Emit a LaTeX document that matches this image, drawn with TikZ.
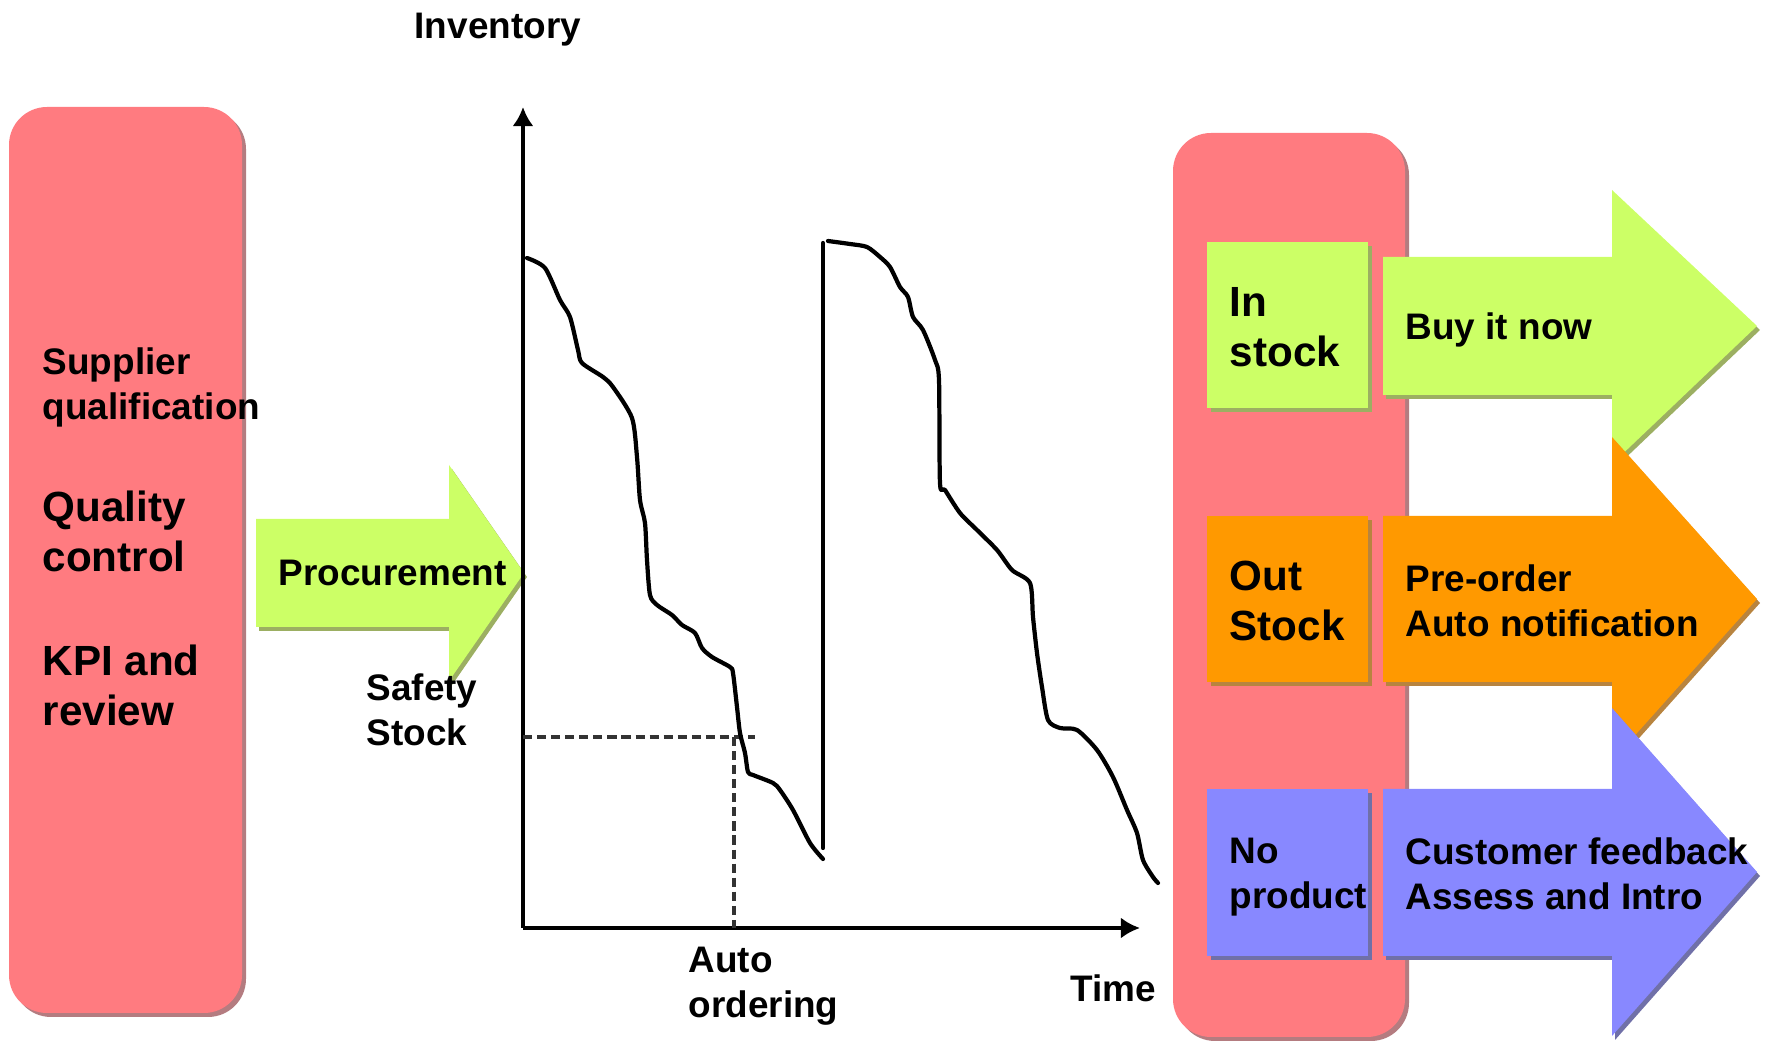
\documentclass[tikz,border=0pt]{standalone}
\usepackage{fontspec}
\setmainfont{Liberation Sans}
\usetikzlibrary{arrows.meta}

\definecolor{pinkfill}{HTML}{FF7B80}
\definecolor{pinkshade}{HTML}{B47C80}
\definecolor{limefill}{HTML}{CCFF66}
\definecolor{limeshade}{HTML}{9CAF62}
\definecolor{orangefill}{HTML}{FF9900}
\definecolor{orangeshade}{HTML}{B8843F}
\definecolor{bluefill}{HTML}{8888FF}
\definecolor{blueshade}{HTML}{7070A8}

\tikzset{
  txt/.style={font=\bfseries\fontsize{10.5}{12.8}\selectfont, inner sep=0pt, anchor=west, align=left},
  bigtxt/.style={font=\bfseries\fontsize{12}{14.2}\selectfont, inner sep=0pt, anchor=west, align=left},
  axisline/.style={line width=1.3pt, black, -{Latex[length=1.9mm, width=2.1mm]}},
  stockcurve/.style={line width=1.2pt, black, line join=round, line cap=round},
  guide/.style={line width=1.3pt, black!80, dash pattern=on 2.6pt off 1.4pt},
  panel/.style={rounded corners=3.8mm},
}

\begin{document}
\begin{tikzpicture}[x=0.01cm, y=-0.01cm]
\useasboundingbox (0,0) rectangle (1768,1046);

% ---------- left panel ----------
\fill[pinkshade, panel] (13,111) rectangle (246,1017);
\fill[pinkfill, panel] (9,107) rectangle (242,1013);

\node[txt] (supplier) at (42,387) {Supplier\\qualification};
\node[bigtxt] (quality) at (42,531) {Quality\\control};
\node[bigtxt] (kpi) at (42,685) {KPI and\\review};

% ---------- procurement arrow ----------
\fill[limeshade] (259,523) -- (452,523) -- (452,469) -- (527,577) -- (452,685) -- (452,631) -- (259,631) -- cycle;
\fill[limefill] (256,519) -- (449,519) -- (449,465) -- (524,573) -- (449,681) -- (449,627) -- (256,627) -- cycle;
\node[txt] (procurement) at (278,573) {Procurement};

% ---------- inventory chart ----------
\coordinate (origin) at (523,928);
\coordinate (ytop) at (523,107);
\coordinate (xend) at (1140,928);
\draw[axisline] (origin) -- (ytop);
\draw[axisline] (origin) -- (xend);

\node[txt] (inventory) at (414,30) {Inventory};
\node[txt] (time) at (1070,988) {Time};
\node[txt] (safety) at (366,710) {Safety\\Stock};
\node[txt] (autoorder) at (688,986) {Auto\\ordering};

% safety stock level and reorder point
\coordinate (ss) at (523,737);
\coordinate (ssend) at (755,737);
\coordinate (reorder) at (734,737);
\coordinate (reorderfoot) at (734,928);
\draw[guide] (ss) -- (ssend);
\draw[guide] (reorder) -- (reorderfoot);

% first depletion cycle
\draw[stockcurve] plot[smooth, tension=0.45] coordinates {
  (527,258) (545,268) (560,300) (570,317) (578,350) (582,363) (603,377)
  (613,387) (632,418) (637,457) (640,500) (645,523) (647,560) (650,595)
  (657,605) (672,615) (682,625) (695,633) (702,648) (712,657) (730,667)
  (733,673) (737,707) (740,733) (745,753) (748,772) (753,775) (773,783)
  (780,790) (793,810) (810,843) (823,859)};

% replenishment
\coordinate (refillbot) at (823,848);
\coordinate (refilltop) at (823,243);
\draw[stockcurve] (refillbot) -- (refilltop);

% second depletion cycle
\draw[stockcurve] plot[smooth, tension=0.45] coordinates {
  (828,241) (850,244) (867,247) (880,257) (890,267) (900,287) (908,297)
  (913,317) (923,330) (935,360) (939,380) (940,483) (945,490) (960,513)
  (977,530) (997,550) (1012,570) (1030,583) (1033,617) (1037,653)
  (1042,687) (1048,720) (1060,728) (1077,730) (1097,750) (1113,777)
  (1127,810) (1137,833) (1143,860) (1153,877) (1158,883)};

% ---------- right panel ----------
\fill[pinkshade, panel] (1177,137) rectangle (1409,1041);
\fill[pinkfill, panel] (1173,133) rectangle (1405,1037);

% status boxes
\fill[limeshade] (1211,246) rectangle (1372,412);
\fill[limefill] (1207,242) rectangle (1368,408);
\node[bigtxt] (instock) at (1229,327) {In\\stock};

\fill[orangeshade] (1211,520) rectangle (1372,686);
\fill[orangefill] (1207,516) rectangle (1368,682);
\node[bigtxt] (outstock) at (1229,601) {Out\\Stock};

\fill[blueshade] (1211,793) rectangle (1372,960);
\fill[bluefill] (1207,789) rectangle (1368,956);
\node[txt] (noproduct) at (1229,877) {No\\product};

% action arrows
\fill[limeshade] (1386,261) -- (1615,261) -- (1615,194) -- (1760,330) -- (1615,468) -- (1615,399) -- (1386,399) -- cycle;
\fill[limefill] (1383,257) -- (1612,257) -- (1612,190) -- (1757,326) -- (1612,464) -- (1612,395) -- (1383,395) -- cycle;
\node[txt] (buy) at (1405,330) {Buy it now};

\fill[orangeshade] (1386,520) -- (1615,520) -- (1615,441) -- (1760,603) -- (1615,765) -- (1615,686) -- (1386,686) -- cycle;
\fill[orangefill] (1383,516) -- (1612,516) -- (1612,437) -- (1757,599) -- (1612,761) -- (1612,682) -- (1383,682) -- cycle;
\node[txt] (preorder) at (1405,601) {Pre-order\\Auto notification};

\fill[blueshade] (1386,793) -- (1615,793) -- (1615,712) -- (1760,876) -- (1615,1040) -- (1615,960) -- (1386,960) -- cycle;
\fill[bluefill] (1383,789) -- (1612,789) -- (1612,708) -- (1757,872) -- (1612,1036) -- (1612,956) -- (1383,956) -- cycle;
\node[txt] (feedback) at (1405,874) {Customer feedback\\Assess and Intro};

\end{tikzpicture}
\end{document}
